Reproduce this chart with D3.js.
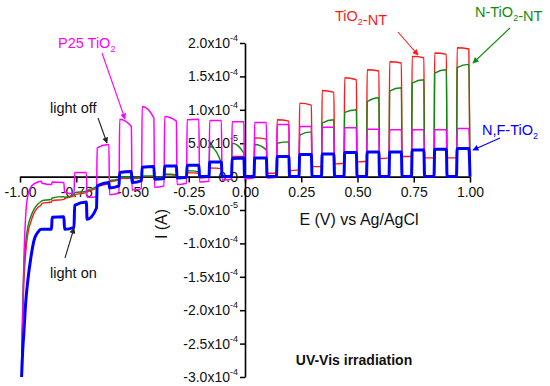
<!DOCTYPE html>
<html><head><meta charset="utf-8">
<script src="https://cdn.jsdelivr.net/npm/d3@7"></script>
<style>
body{margin:0;background:#fff}
svg{display:block}
text{font-family:"Liberation Sans",Arial,sans-serif}
</style>
</head><body>
<svg id="chart" width="550" height="386"></svg>
<script>
// ---------------- data ----------------
const xTicks = [-1, -0.75, -0.5, -0.25, 0, 0.25, 0.5, 0.75, 1];
const xMinor = [-0.875, -0.625, -0.375, -0.125, 0.125, 0.375, 0.625, 0.875];
const yTicks = [-3e-4, -2.5e-4, -2e-4, -1.5e-4, -1e-4, -5e-5, 0, 5e-5, 1e-4, 1.5e-4, 2e-4];
const yMinor = [-2.75e-4, -2.25e-4, -1.75e-4, -1.25e-4, -7.5e-5, -2.5e-5, 2.5e-5, 7.5e-5, 1.25e-4, 1.75e-4];
const yTickBase = ["-3.0x10", "-2.5x10", "-2.0x10", "-1.5x10", "-1.0x10", "-5.0x10", "0.0", "5.0x10", "1.0x10", "1.5x10", "2.0x10"];
const yTickExp  = ["-4", "-4", "-4", "-4", "-4", "-5", "", "-5", "-4", "-4", "-4"];

// potential (V) where the light is switched on / off in each chop cycle
const lightOnE  = [-0.86, -0.76, -0.66, -0.56, -0.46, -0.36, -0.26, -0.16, -0.06, 0.04, 0.14, 0.24, 0.34, 0.44, 0.54, 0.64, 0.74, 0.84, 0.94];
const lightOffE = [-0.805, -0.705, -0.605, -0.505, -0.405, -0.305, -0.205, -0.105, -0.005, 0.095, 0.195, 0.295, 0.395, 0.495, 0.595, 0.695, 0.795, 0.895, 0.995];

// start of the sweep (steep cathodic part), potentials in V
const leadE = [-0.993, -0.988, -0.983, -0.975, -0.965, -0.952, -0.938, -0.92, -0.905];

// currents in units of 1e-5 A
// P25 TiO2 (magenta)
const p25Lead  = [-29, -22, -13, -6, -2.8, -1.6, -1.1, -0.8, -0.7];
const p25DarkA = [-1.0, -2.3, -3.1, -2.7, -2.0, -1.6, -1.2, -0.8, -0.5, -0.3, -0.2, -0.1, 0, 0, 0, 0, 0, 0, 0];
const p25DarkB = [-1.2, -2.6, -3.0, -2.5, -1.8, -1.4, -1.0, -0.7, -0.4, -0.2, -0.1, 0, 0, 0, 0, 0, 0, 0, 0];
const p25OnA   = [-0.8, 0.6, 4.3, 8.6, 10.5, 9.0, 8.5, 8.4, 8.2, 8.1, 7.8, 7.5, 7.4, 7.3, 7.1, 7.0, 7.0, 7.0, 7.2];
const p25OnB   = [-0.9, 0.6, 4.8, 7.5, 8.8, 8.3, 8.6, 8.4, 8.2, 8.1, 7.8, 7.5, 7.4, 7.3, 7.1, 7.0, 7.0, 7.0, 7.2];
// TiO2-NT (red)
const ntLead  = [-28.5, -21, -16, -11.5, -8.5, -6.8, -5.5, -4.6, -4.2];
const ntDarkA = [-4.0, -3.3, -2.3, -0.8, -0.3, -0.2, -0.2, -0.2, -0.1, 0, 0.5, 0.9, 1.5, 1.9, 2.2, 2.7, 3.0, 2.8, 2.8];
const ntDarkB = [-3.8, -2.9, -1.7, -0.5, -0.2, -0.15, -0.1, -0.1, 0, 0.2, 0.5, 1.0, 1.5, 2.0, 2.3, 2.8, 3.0, 2.8, 2.8];
const ntOnA   = [-3.6, -2.7, -1.5, -0.3, 0, 0.3, 0.6, 1.3, 3.0, 5.8, 8.5, 11.0, 12.9, 14.8, 16.0, 17.2, 18.0, 18.5, 19.3];
const ntOnB   = [-3.4, -2.4, -1.0, -0.2, 0, 0.2, 0.5, 1.2, 3.0, 5.6, 8.3, 10.7, 12.6, 14.5, 15.8, 17.0, 17.8, 18.3, 19.1];
// N-TiO2-NT (green)
const nLead  = [-28, -19, -14, -10, -7.5, -6.0, -4.9, -4.1, -3.7];
const nDarkA = [-3.6, -3.1, -2.1, -0.6, -0.2, -0.15, -0.1, -0.05, 0, 0.1, 0.1, 0.1, 0.1, 0.1, 0.1, 0.1, 0.1, 0.1, 0.1];
const nDarkB = [-3.4, -2.7, -1.5, -0.4, -0.15, -0.1, -0.05, 0, 0, 0.1, 0.1, 0.1, 0.1, 0.1, 0.1, 0.1, 0.1, 0.1, 0.1];
const nOnA   = [-3.2, -2.4, -1.2, -0.1, 0.1, 0.4, 0.9, 4.5, 5.0, 4.8, 5.0, 6.2, 8.0, 9.6, 11.2, 12.8, 14.0, 15.5, 16.3];
const nOnB   = [-3.0, -2.2, -0.9, -0.1, 0.1, 0.3, 0.7, 2.0, 3.5, 4.0, 5.2, 6.7, 8.5, 10.0, 11.8, 13.3, 14.5, 16.0, 16.8];
// N,F-TiO2 (blue)
const nfLead  = [-30, -26, -23.5, -19, -15.5, -12.2, -9.6, -8.3, -7.9];
const nfDarkA = [-7.9, -7.9, -6.4, -1.7, -0.9, -0.4, -0.2, 0, 0, 0, 0, 0, 0, 0, 0, 0, 0, 0, 0];
const nfDarkB = [-7.9, -7.6, -4.7, -1.4, -0.6, -0.3, -0.1, 0, 0, 0, 0, 0, 0, 0, 0, 0, 0, 0, 0];
const nfOnA   = [-6.1, -4.3, -1.4, 0.6, 1.4, 1.6, 1.7, 2.2, 2.7, 2.8, 3.0, 3.3, 3.4, 3.6, 3.7, 3.7, 4.0, 4.1, 4.2];
const nfOnB   = [-6.0, -3.8, -0.9, 0.75, 1.5, 1.6, 1.7, 2.2, 2.8, 2.8, 3.0, 3.3, 3.4, 3.6, 3.7, 3.7, 4.0, 4.1, 4.2];

const unit = 1e-5;

// ---------------- chart ----------------
const svg = d3.select("#chart");
const x = d3.scaleLinear().domain([-1, 1]).range([20, 470]);
const y = d3.scaleLinear().domain([-3e-4, 2e-4]).range([377, 43]);
const x0 = x(0), y0 = y(0);

// x axis (through zero)
const gx = svg.append("g").attr("transform", `translate(0,${y0})`);
gx.call(d3.axisBottom(x).tickValues(xMinor).tickSize(3).tickSizeOuter(0).tickFormat(""));
gx.call(d3.axisBottom(x).tickValues(xTicks).tickSize(6).tickSizeOuter(0).tickFormat(d => d.toFixed(2)));
gx.selectAll("path.domain").attr("stroke", "#000").attr("stroke-width", 1.6);
gx.selectAll(".tick line").attr("stroke", "#000").attr("stroke-width", 1.5);
gx.selectAll(".tick text").attr("font-size", 14).attr("fill", "#111").attr("y", 10).attr("dy", "0.71em")
  .attr("font-family", "Liberation Sans, Arial, sans-serif");

// y axis (through zero)
const gy = svg.append("g").attr("transform", `translate(${x0},0)`);
gy.call(d3.axisLeft(y).tickValues(yMinor).tickSize(3).tickSizeOuter(0).tickFormat(""));
gy.call(d3.axisLeft(y).tickValues(yTicks).tickSize(5).tickSizeOuter(0).tickFormat(""));
gy.selectAll("path.domain").attr("stroke", "#000").attr("stroke-width", 1.6);
gy.selectAll(".tick line").attr("stroke", "#000").attr("stroke-width", 1.5);

const yl = svg.append("g").attr("font-size", 14).attr("fill", "#111").attr("text-anchor", "end");
yTicks.forEach((v, i) => {
  const t = yl.append("text").attr("x", x0 - 7).attr("y", y(v)).attr("dy", "0.36em");
  t.append("tspan").text(yTickBase[i]);
  if (yTickExp[i]) t.append("tspan").attr("font-size", 9).attr("dy", "-0.75em").text(yTickExp[i]);
});

// axis titles
svg.append("text").attr("x", 359).attr("y", 225).attr("text-anchor", "middle")
  .attr("font-size", 16).attr("fill", "#111").text("E (V) vs Ag/AgCl");
svg.append("text").attr("transform", "translate(167,224) rotate(-90)").attr("text-anchor", "middle")
  .attr("font-size", 16).attr("fill", "#111").text("I (A)");
svg.append("text").attr("x", 354).attr("y", 365).attr("text-anchor", "middle")
  .attr("font-size", 14).attr("font-weight", "bold").attr("fill", "#111").text("UV-Vis irradiation");

// series
const series = [
  {color: "#ff1a1a", width: 1.4, lead: ntLead, darkA: ntDarkA, darkB: ntDarkB, onA: ntOnA, onB: ntOnB, end: 0.5},
  {color: "#118a11", width: 1.4, lead: nLead, darkA: nDarkA, darkB: nDarkB, onA: nOnA, onB: nOnB, end: 0.1},
  {color: "#ff00ff", width: 1.5, lead: p25Lead, darkA: p25DarkA, darkB: p25DarkB, onA: p25OnA, onB: p25OnB, end: 0},
  {color: "#0000ff", width: 3, lead: nfLead, darkA: nfDarkA, darkB: nfDarkB, onA: nfOnA, onB: nfOnB, end: 0}
];

function buildPoints(s) {
  const pts = leadE.map((e, i) => [e, s.lead[i]]);
  lightOnE.forEach((on, k) => {
    const prevOff = k === 0 ? leadE[leadE.length - 1] : lightOffE[k - 1];
    pts.push([prevOff + 0.003, s.darkA[k]]);
    pts.push([on, s.darkB[k]]);
    pts.push([on + 0.003, s.onA[k]]);
    pts.push([lightOffE[k], s.onB[k]]);
  });
  pts.push([1.0, s.end]);
  return pts;
}

const line = d3.line().x(d => x(d[0])).y(d => y(d[1] * unit)).curve(d3.curveMonotoneX);
series.forEach(s => {
  svg.append("path").datum(buildPoints(s)).attr("d", line)
    .attr("fill", "none").attr("stroke", s.color).attr("stroke-width", s.width)
    .attr("stroke-linejoin", "round");
});

// annotations
const defs = svg.append("defs");
function marker(id, color) {
  defs.append("marker").attr("id", id).attr("viewBox", "0 0 10 10").attr("refX", 9).attr("refY", 5)
    .attr("markerWidth", 7).attr("markerHeight", 6).attr("markerUnits", "userSpaceOnUse").attr("orient", "auto")
    .append("path").attr("d", "M0,0 L10,5 L0,10 Z").attr("fill", color);
}
marker("mBlack", "#222"); marker("mMag", "#ff00ff"); marker("mRed", "#ff1a1a");
marker("mGreen", "#118a11"); marker("mBlue", "#0000ff");

function arrow(x1, y1, x2, y2, color, m) {
  svg.append("line").attr("x1", x1).attr("y1", y1).attr("x2", x2).attr("y2", y2)
    .attr("stroke", color).attr("stroke-width", 1.1).attr("marker-end", `url(#${m})`);
}
function label(xp, yp, parts, color) {
  const t = svg.append("text").attr("x", xp).attr("y", yp).attr("font-size", 14.5).attr("fill", color);
  parts.forEach(p => {
    if (p.sub) {
      t.append("tspan").attr("font-size", 9).attr("dy", 4).text(p.t);
      t.append("tspan").attr("dy", -4).text("");
    } else t.append("tspan").text(p.t);
  });
}
label(58, 48, [{t: "P25 TiO"}, {t: "2", sub: true}], "#ff00ff");
arrow(102, 53, 125, 119, "#ff00ff", "mMag");
label(50, 113, [{t: "light off"}], "#111");
arrow(98, 118, 107, 143, "#222", "mBlack");
label(50, 278, [{t: "light on"}], "#111");
arrow(65, 258, 74, 228, "#222", "mBlack");
label(335, 21, [{t: "TiO"}, {t: "2", sub: true}, {t: "-NT"}], "#ff1a1a");
arrow(398, 32, 418, 55, "#ff1a1a", "mRed");
label(475, 17, [{t: "N-TiO"}, {t: "2", sub: true}, {t: "-NT"}], "#118a11");
arrow(510, 28, 473, 63, "#118a11", "mGreen");
label(482, 135, [{t: "N,F-TiO"}, {t: "2", sub: true}], "#0000ff");
arrow(500, 138, 473, 150, "#0000ff", "mBlue");
</script>
</body></html>
